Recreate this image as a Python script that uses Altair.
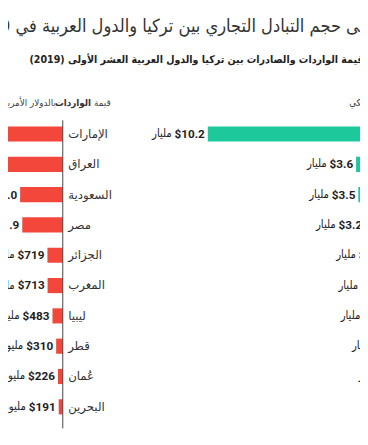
import altair as alt
import pandas as pd

RLE, PDF = "\u202B", "\u202C"

# Imports (left panel), ranked
imp_countries = ["الإمارات", "العراق", "السعودية", "مصر", "الجزائر", "المغرب", "ليبيا", "قطر", "عُمان", "البحرين"]
imp_values = [3.4, 2.7, 2.0, 1.9, 0.719, 0.713, 0.483, 0.310, 0.226, 0.191]
imp_nums = ["$3.4", "$2.7", "$2.0", "$1.9", "$719", "$713", "$483", "$310", "$226", "$191"]
imp_units = ["مليار"] * 4 + ["مليون"] * 6

# Exports (right panel), ranked
exp_countries = ["العراق", "الإمارات", "مصر", "السعودية", "المغرب", "الجزائر", "ليبيا", "قطر", "تونس", "الأردن"]
exp_values = [10.2, 3.6, 3.5, 3.2, 2.3, 2.2, 2.1, 1.6, 1.3, 1.2]
exp_nums = ["$10.2", "$3.6", "$3.5", "$3.2", "$2.3", "$2.2", "$2.1", "$1.6", "$1.3", "$1.2"]
exp_units = ["مليار"] * 10

title_text = "نظرة على حجم التبادل التجاري بين تركيا والدول العربية في 2019"
subtitle_text = "قيمة الواردات والصادرات بين تركيا والدول العربية العشر الأولى  (2019)"


def kind(s):
    return "m" if "." not in s else ("b2" if len(s) == 5 else "b1")


df = pd.DataFrame({
    "rank": list(range(1, 11)),
    "imp_country": [RLE + c + PDF for c in imp_countries],
    "imp": imp_values,
    "imp_num": imp_nums,
    "imp_unit": [RLE + u + PDF for u in imp_units],
    "imp_kind": [kind(s) for s in imp_nums],
    "exp_country": [RLE + c + PDF for c in exp_countries],
    "exp": exp_values,
    "exp_num": exp_nums,
    "exp_unit": [RLE + u + PDF for u in exp_units],
    "exp_kind": [kind(s) for s in exp_nums],
})

RED = "#f4473b"
GREEN = "#1dc99a"
NUMFONT = "Roboto"
ARFONT = "DejaVu Sans"
ARCOND = "DejaVu Sans Condensed, DejaVu Sans"
UNIT_DX = {"b1": -30.0, "b2": -36.8, "m": -33.6}

yenc = alt.Y("rank:O", axis=None,
             scale=alt.Scale(range=[108.5, 418.5], paddingInner=0.5, paddingOuter=0.25))
imp_scale = alt.Scale(domain=[0, 10], range=[56, 56 - 218], nice=False, zero=False)
exp_scale = alt.Scale(domain=[0, 10], range=[438.7, 438.7 - 229.8], nice=False, zero=False)

base = alt.Chart(df)


def panel(prefix, scale, color):
    xq = alt.X(f"{prefix}:Q", scale=scale, axis=None)
    layers = [
        base.mark_bar(color=color).encode(y=yenc, x=xq, x2=alt.datum(0)),
        base.mark_text(align="right", baseline="middle", dx=-3, fontSize=12,
                       fontWeight="bold", font=NUMFONT, color="#1e1e1e").encode(
            y=yenc, x=xq, text=f"{prefix}_num:N"),
    ]
    for k, dx in UNIT_DX.items():
        layers.append(
            base.mark_text(align="right", baseline="middle", dx=dx, fontSize=11.5,
                           font=ARCOND, color="#222").encode(
                y=yenc, x=xq, text=f"{prefix}_unit:N"
            ).transform_filter(f"datum.{prefix}_kind == '{k}'")
        )
    layers.append(
        base.mark_text(align="left", baseline="middle", dx=5.5, fontSize=12,
                       font=ARFONT, color="#333").encode(
            y=yenc, x=alt.X("zero:Q", scale=scale, axis=None), text=f"{prefix}_country:N"
        ).transform_calculate(zero="0")
    )
    return layers


axis_rule = base.mark_rule(color="#444", strokeWidth=1).encode(
    x=alt.X("zero:Q", scale=imp_scale, axis=None), y=alt.value(110), y2=alt.value(425)
).transform_calculate(zero="0").transform_filter("datum.rank == 1")

one = alt.Chart(pd.DataFrame({"a": [0]}))
title = one.mark_text(align="left", baseline="alphabetic", fontSize=18.5, font=ARCOND,
                      color="#333", text=RLE + title_text + PDF).encode(
    x=alt.value(-40), y=alt.value(19.5))
subtitle = one.mark_text(align="left", baseline="alphabetic", fontSize=10.8, font=ARCOND,
                         fontWeight="bold", color="#222", text=RLE + subtitle_text + PDF).encode(
    x=alt.value(22), y=alt.value(51))
h1 = one.mark_text(align="right", baseline="alphabetic", fontSize=10, font=ARCOND,
                   color="#444", text=RLE + "قيمة" + PDF).encode(x=alt.value(105), y=alt.value(95))
h2 = one.mark_text(align="right", baseline="alphabetic", fontSize=10, font=ARCOND,
                   fontWeight="bold", color="#333", text=RLE + "الواردات" + PDF).encode(
    x=alt.value(85), y=alt.value(95))
h3 = one.mark_text(align="right", baseline="alphabetic", fontSize=10, font=ARCOND,
                   color="#444", text=RLE + "بالدولار الأمريكي" + PDF).encode(
    x=alt.value(49), y=alt.value(95))
h4 = one.mark_text(align="left", baseline="alphabetic", fontSize=10, font=ARCOND,
                   color="#444", text=RLE + "قيمة الصادرات بالدولار الأمريكي" + PDF).encode(
    x=alt.value(349), y=alt.value(95))

chart = alt.layer(
    *panel("imp", imp_scale, RED), axis_rule, *panel("exp", exp_scale, GREEN),
    title, subtitle, h1, h2, h3, h4
).resolve_scale(x="independent").properties(
    width=360, height=429, autosize=alt.AutoSizeParams(type="none"), padding=0,
    background="white"
).configure_view(strokeWidth=0)

chart.save("out.html", embed_options={"renderer": "svg", "actions": False})
